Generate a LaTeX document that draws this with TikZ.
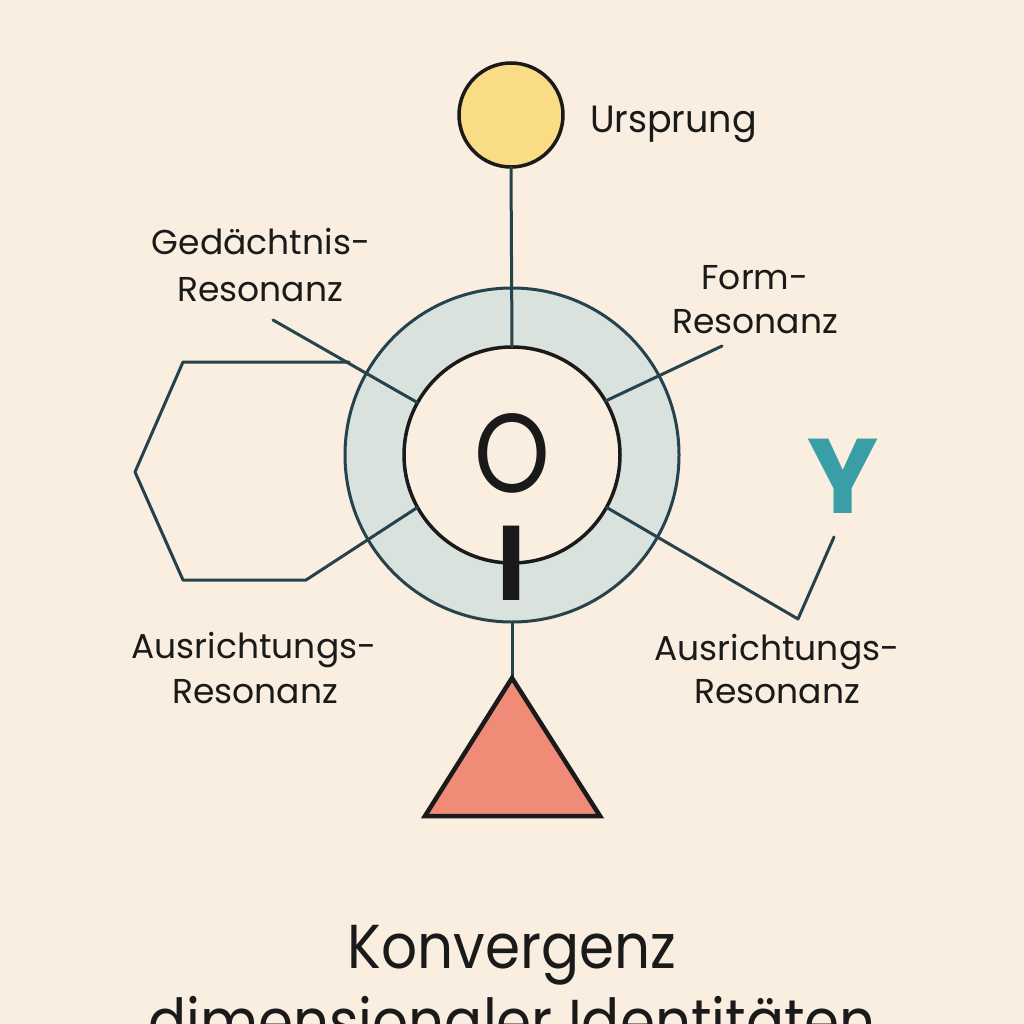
\documentclass[tikz,border=0pt]{standalone}
\usepackage{fontspec}
\setmainfont{Poppins}
\definecolor{paper}{HTML}{F9EEDF}
\definecolor{ringfill}{HTML}{D9E2DC}
\definecolor{slate}{HTML}{26424D}
\definecolor{ink}{HTML}{1A1A1A}
\definecolor{sun}{HTML}{F9DC85}
\definecolor{coral}{HTML}{EF8B77}
\definecolor{teal}{HTML}{3A9EA6}
\begin{document}
\begin{tikzpicture}[x=1pt,y=-1pt,
  spoke/.style={draw=slate,line width=3pt,line cap=round,line join=round},
  lbl/.style={inner sep=0pt,outer sep=0pt,text=ink,font=\fontsize{34.5}{40}\selectfont},
  titletxt/.style={inner sep=0pt,outer sep=0pt,text=ink,xscale=0.91,font=\fontsize{62}{74}\selectfont}]
\useasboundingbox (0,0) rectangle (1024,1024);
\fill[paper] (0,0) rectangle (1024,1024);

% central ring and core
\node[circle,minimum size=334pt,inner sep=0pt,outer sep=0pt,draw=slate,line width=3pt,fill=ringfill] (ring) at (512,455) {};
\node[circle,minimum size=216pt,inner sep=0pt,outer sep=0pt,draw=ink,line width=3.5pt,fill=paper] (core) at (512,455) {};

% origin disc
\node[circle,minimum size=104pt,inner sep=0pt,outer sep=0pt,draw=ink,line width=3.5pt,fill=sun] (origin) at (511,115) {};
\draw[spoke] (origin.south) -- (core.north);

% free ends of the spokes
\coordinate (gedEnd) at (273,320);
\coordinate (formEnd) at (722,346);
\coordinate (hexBR) at (306,580);
\coordinate (hexBL) at (183,580);
\coordinate (hexL) at (135,472);
\coordinate (hexTL) at (183,362);
\coordinate (hexTR) at (349,362);
\coordinate (knee) at (798,619);
\coordinate (tip) at (834,537);

% spokes
\draw[spoke] (core.151) -- (gedEnd);
\draw[spoke] (core.30) -- (formEnd);
\draw[spoke] (core.209) -- (hexBR) -- (hexBL) -- (hexL) -- (hexTL) -- (hexTR);
\draw[spoke] (core.-29) -- (knee) -- (tip);

% triangle below
\coordinate (apex) at (512,678);
\coordinate (triL) at (425,816);
\coordinate (triR) at (600,816);
\draw[spoke] (ring.south) -- (apex);
\filldraw[fill=coral,draw=ink,line width=4.5pt,line join=miter] (apex) -- (triR) -- (triL) -- cycle;

% letters inside the ring
\node[inner sep=0pt,text=ink,font=\fontsize{112}{112}\selectfont,xscale=0.86] (oh) at (512,453) {O};
\node[inner sep=0pt,text=ink,font=\fontsize{106}{106}\selectfont\bfseries,anchor=base,xscale=0.9] (eye) at (512,600) {I};

% teal letter
\node[inner sep=0pt,text=teal,font=\fontsize{106}{106}\selectfont\bfseries,anchor=base] (why) at (843,513) {Y};

% labels
\node[lbl,anchor=base west,font=\fontsize{38}{46}\selectfont,xscale=0.96] (urs) at (590,133) {Ursprung};
\node[lbl,anchor=base] (ged1) at (261,254) {Gedächtnis-};
\node[lbl,anchor=base] (ged2) at (260,301) {Resonanz};
\node[lbl,anchor=base] (form1) at (755,289) {Form-};
\node[lbl,anchor=base] (form2) at (755,333) {Resonanz};
\node[lbl,anchor=base] (ausl1) at (254,658) {Ausrichtungs-};
\node[lbl,anchor=base] (ausl2) at (255,703) {Resonanz};
\node[lbl,anchor=base] (ausr1) at (777,660) {Ausrichtungs-};
\node[lbl,anchor=base] (ausr2) at (777,703) {Resonanz};

% title
\node[titletxt,anchor=base] (title1) at (512,968) {Konvergenz};
\node[titletxt,anchor=base] (title2) at (512,1043) {dimensionaler Identitäten};
\end{tikzpicture}
\end{document}
